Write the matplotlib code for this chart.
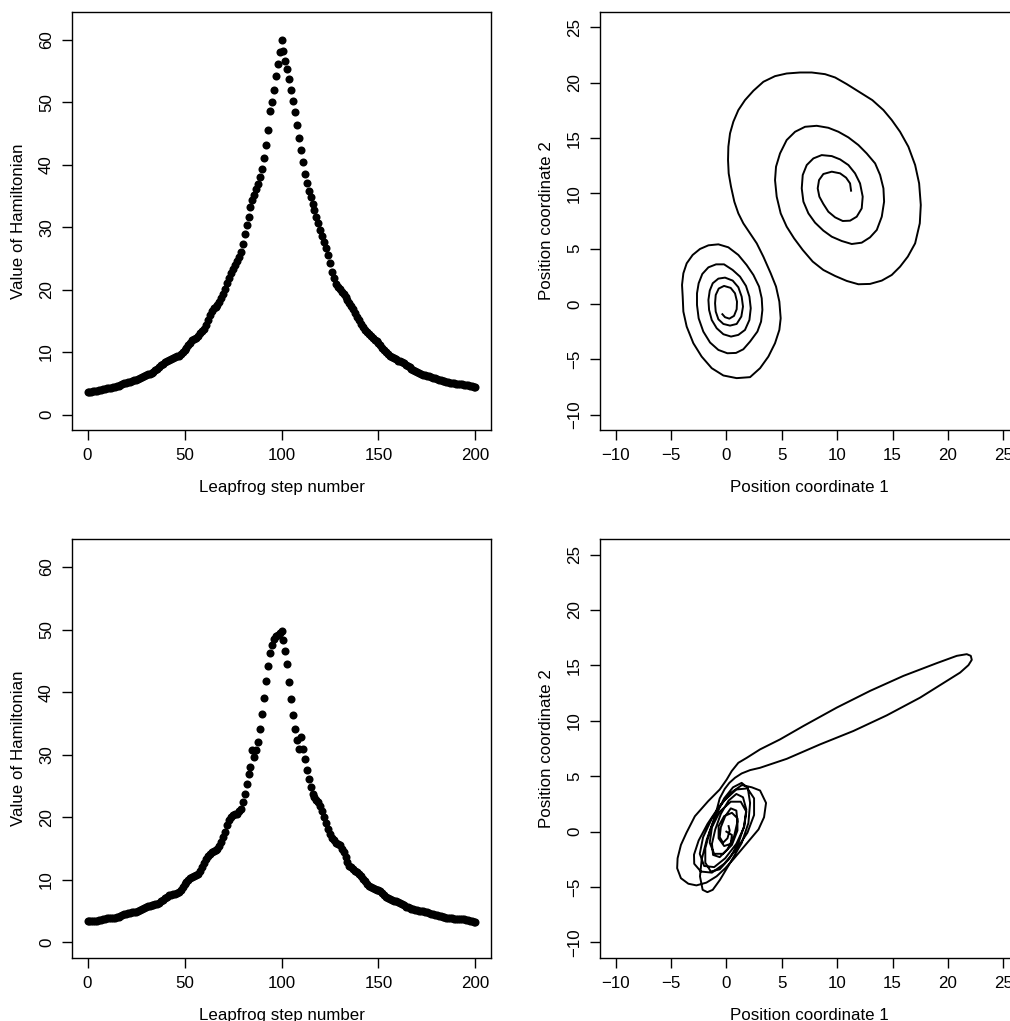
import matplotlib
matplotlib.use("Agg")
import matplotlib.pyplot as plt
import numpy as np

plt.rcParams['font.family'] = ['Liberation Sans', 'DejaVu Sans']

# leapfrog step number (0..200)
steps = np.arange(201)

# value of the Hamiltonian, top run
ham_top = [
    3.64, 3.66, 3.68, 3.71, 3.75, 3.80, 3.86, 3.93, 4.01, 4.09,
    4.17, 4.24, 4.30, 4.36, 4.42, 4.50, 4.60, 4.72, 4.85, 4.97,
    5.08, 5.18, 5.27, 5.36, 5.46, 5.58, 5.72, 5.88, 6.04, 6.18,
    6.30, 6.42, 6.54, 6.68, 6.86, 7.08, 7.34, 7.62, 7.90, 8.16,
    8.40, 8.56, 8.72, 8.88, 9.02, 9.16, 9.30, 9.45, 9.70, 10.0,
    10.3, 10.7, 11.1, 11.5, 11.9, 12.1, 12.3, 12.6, 13.0, 13.3,
    13.7, 14.3, 15.1, 15.9, 16.6, 17.0, 17.3, 17.6, 18.0, 18.6,
    19.3, 20.1, 21.0, 21.9, 22.7, 23.3, 23.9, 24.6, 25.3, 26.1,
    27.3, 28.9, 30.4, 31.7, 33.3, 34.4, 35.2, 36.1, 36.9, 38.0,
    39.3, 41.1, 43.2, 45.6, 48.7, 50.0, 52.0, 54.2, 56.2, 58.1,
    60.05, 58.3, 56.7, 55.3, 53.7, 52.0, 50.3, 48.5, 46.4, 44.3,
    42.3, 40.4, 38.6, 37.1, 35.8, 34.8, 33.7, 32.8, 31.7, 30.6,
    29.6, 28.6, 27.7, 26.6, 25.6, 24.2, 22.9, 21.8, 20.9, 20.5,
    20.1, 19.7, 19.3, 18.9, 18.4, 17.9, 17.4, 16.9, 16.3, 15.7,
    15.1, 14.5, 14.0, 13.6, 13.2, 12.9, 12.6, 12.3, 12.0, 11.7,
    11.4, 11.1, 10.7, 10.3, 9.95, 9.65, 9.40, 9.20, 9.00, 8.82,
    8.65, 8.50, 8.35, 8.18, 8.00, 7.80, 7.58, 7.36, 7.14, 6.94,
    6.78, 6.64, 6.52, 6.40, 6.30, 6.20, 6.10, 6.00, 5.90, 5.80,
    5.70, 5.60, 5.50, 5.40, 5.32, 5.25, 5.18, 5.12, 5.06, 5.00,
    4.95, 4.90, 4.86, 4.82, 4.78, 4.72, 4.65, 4.57, 4.49, 4.41,
    4.33]

# value of the Hamiltonian, bottom run
ham_bot = [
    3.41, 3.42, 3.43, 3.44, 3.46, 3.48, 3.55, 3.63, 3.70, 3.77,
    3.84, 3.88, 3.91, 3.94, 3.97, 4.00, 4.10, 4.22, 4.36, 4.50,
    4.62, 4.70, 4.76, 4.81, 4.86, 4.90, 5.02, 5.18, 5.36, 5.54,
    5.68, 5.78, 5.86, 5.94, 6.02, 6.10, 6.22, 6.38, 6.58, 6.80,
    7.05, 7.30, 7.52, 7.66, 7.74, 7.80, 7.86, 8.10, 8.45, 8.85,
    9.30, 9.70, 10.0, 10.25, 10.45, 10.62, 10.80, 11.0, 11.5, 12.1,
    12.7, 13.3, 13.9, 14.2, 14.4, 14.55, 14.7, 14.9, 15.4, 16.0,
    16.8, 17.7, 18.7, 19.5, 20.0, 20.3, 20.5, 20.6, 21.0, 21.3,
    22.4, 23.8, 25.4, 26.9, 28.1, 30.8, 29.6, 30.8, 32.1, 34.1,
    36.5, 39.1, 41.8, 44.2, 46.2, 47.6, 48.5, 49.0, 49.2, 49.4,
    49.7, 48.4, 46.6, 44.5, 41.7, 38.9, 36.4, 34.1, 32.3, 31.0,
    32.8, 30.9, 29.3, 27.6, 26.1, 24.9, 23.8, 23.2, 22.8, 22.4,
    21.8, 21.0, 20.0, 19.1, 18.2, 17.3, 16.7, 16.3, 15.9, 15.7,
    15.5, 15.0, 14.4, 13.6, 12.9, 12.3, 12.0, 11.7, 11.5, 11.3,
    11.0, 10.6, 10.2, 9.8, 9.4, 9.1, 8.85, 8.65, 8.55, 8.45,
    8.35, 8.15, 7.9, 7.6, 7.3, 7.05, 6.88, 6.75, 6.65, 6.55,
    6.45, 6.35, 6.15, 5.95, 5.75, 5.6, 5.48, 5.38, 5.3, 5.22,
    5.16, 5.10, 5.04, 4.98, 4.90, 4.80, 4.70, 4.60, 4.50, 4.42,
    4.35, 4.28, 4.20, 4.12, 4.05, 3.98, 3.93, 3.89, 3.86, 3.83,
    3.80, 3.77, 3.74, 3.71, 3.68, 3.62, 3.55, 3.47, 3.39, 3.31,
    3.22]

# trajectory in position space, top run (coordinate 1, coordinate 2)
path_top = [
    (-0.36, -0.93), (-0.12, -1.20), (0.27, -1.33), (0.69, -1.08), (0.93, -0.48),
    (0.96, 0.21), (0.78, 0.96), (0.39, 1.45), (-0.21, 1.63), (-0.69, 1.39),
    (-0.96, 0.81), (-1.02, 0.06),
    (-0.96, -0.69), (-0.72, -1.39), (-0.27, -1.81), (0.33, -1.96), (0.93, -1.81),
    (1.35, -1.14), (1.50, -0.24), (1.38, 0.66), (1.08, 1.51), (0.57, 2.11),
    (-0.12, 2.38), (-0.72, 2.29), (-1.23, 1.87), (-1.50, 1.20), (-1.62, 0.36),
    (-1.56, -0.54), (-1.32, -1.45), (-0.87, -2.20), (-0.27, -2.74), (0.42, -2.95),
    (1.08, -2.80), (1.68, -2.35), (2.08, -1.45), (2.20, -0.39), (2.08, 0.66),
    (1.77, 1.63), (1.23, 2.47), (0.57, 3.07), (-0.21, 3.58), (-0.93, 3.58),
    (-1.62, 3.31), (-2.17, 2.71), (-2.50, 1.87), (-2.65, 0.96),
    (-2.65, -0.09), (-2.50, -1.30), (-2.08, -2.50), (-1.47, -3.49), (-0.72, -4.16),
    (0.09, -4.46), (0.87, -4.43), (1.53, -4.10), (2.14, -3.40), (2.80, -2.50),
    (3.13, -1.60), (3.25, -0.54), (3.19, 0.51), (2.95, 1.57), (2.44, 2.62),
    (1.83, 3.52), (1.08, 4.43), (0.18, 5.12), (-0.72, 5.39), (-1.62, 5.30),
    (-2.38, 4.97), (-3.04, 4.43), (-3.58, 3.67), (-3.88, 2.77), (-4.00, 1.72),
    (-3.94, 0.66),
    (-3.88, -0.69), (-3.58, -2.05), (-2.98, -3.55), (-2.23, -4.76), (-1.32, -5.81),
    (-0.27, -6.47), (0.93, -6.71), (2.14, -6.62), (3.04, -5.81), (3.79, -4.76),
    (4.39, -3.55), (4.78, -2.35), (4.90, -1.30), (4.78, 0.21), (4.48, 1.57),
    (4.00, 2.77), (3.34, 4.27), (2.74, 5.48), (2.14, 6.38), (1.53, 7.29),
    (1.08, 8.19),
    (0.72, 9.24), (0.42, 10.60), (0.21, 11.80), (0.15, 13.01), (0.18, 14.22),
    (0.33, 15.42), (0.63, 16.48), (1.08, 17.53), (1.68, 18.43), (2.44, 19.28),
    (3.34, 20.09), (4.39, 20.60), (5.44, 20.84), (6.65, 20.93), (7.70, 20.93),
    (8.90, 20.78), (9.81, 20.48), (10.86, 19.88), (12.06, 19.13), (13.17, 18.43),
    (14.17, 17.53), (14.92, 16.63), (15.67, 15.57), (16.42, 14.22), (17.03, 12.56),
    (17.39, 10.90), (17.54, 8.95), (17.45, 7.29), (17.03, 5.48), (16.37, 4.28),
    (15.67, 3.37), (14.92, 2.62), (14.02, 2.11), (12.96, 1.81), (11.91, 1.78),
    (10.86, 2.08), (9.81, 2.53), (8.75, 3.07), (7.79, 3.83), (6.89, 4.88),
    (6.11, 5.93), (5.44, 6.99), (4.90, 8.19), (4.54, 9.70), (4.39, 11.20),
    (4.48, 12.41), (4.84, 13.61), (5.44, 14.82), (6.20, 15.57), (7.10, 16.02),
    (8.15, 16.11), (9.20, 15.93), (10.11, 15.57), (11.01, 15.06), (11.91, 14.37),
    (12.66, 13.61), (13.42, 12.71), (13.87, 11.66), (14.17, 10.45), (14.23, 9.25),
    (14.02, 7.89), (13.57, 6.69), (12.96, 6.02), (12.21, 5.54), (11.31, 5.42),
    (10.41, 5.69), (9.51, 6.08), (8.75, 6.63), (8.00, 7.35), (7.40, 8.19),
    (6.95, 9.25), (6.80, 10.45), (6.89, 11.66), (7.25, 12.56), (7.85, 13.16),
    (8.60, 13.46), (9.51, 13.37), (10.26, 13.07), (11.01, 12.56), (11.61, 11.81),
    (12.06, 10.90), (12.30, 9.70), (12.21, 8.64), (11.76, 7.89), (11.16, 7.53),
    (10.50, 7.50), (9.81, 7.83), (9.20, 8.34), (8.75, 9.04), (8.39, 9.70),
    (8.24, 10.45), (8.36, 11.20), (8.75, 11.75), (9.51, 11.96), (10.26, 11.81),
    (10.80, 11.42), (11.16, 10.90), (11.25, 10.24)]

# trajectory in position space, bottom run
path_bot = [
    (0.0, 0.0), (0.5, -0.3), (0.4, -1.1), (-0.2, -1.3), (-0.7, -0.6),
    (-0.7, 0.5), (-0.2, 1.4), (0.5, 1.7), (1.0, 1.2), (1.0, 0.1),
    (0.5, -1.2), (-0.3, -2.0), (-1.1, -2.0), (-1.5, -1.0), (-1.3, 0.4),
    (-0.6, 1.8), (0.4, 2.7), (1.3, 2.7), (1.8, 1.8), (1.6, 0.4),
    (0.9, -1.1), (-0.1, -2.4), (-1.1, -3.2), (-2.0, -3.1), (-2.4, -2.0),
    (-2.1, -0.5), (-1.3, 1.2), (-0.2, 2.8), (0.9, 3.8), (1.9, 3.9),
    (2.5, 3.0), (2.5, 1.5), (1.9, -0.1), (0.9, -1.6), (-0.2, -2.9),
    (-1.3, -3.7), (-2.3, -3.6), (-2.9, -2.9), (-2.92, -2.08), (-2.5, -0.8),
    (-1.7, 0.7), (-0.7, 2.2), (0.4, 3.5), (1.4, 4.2), (2.29, 4.0),
    (3.04, 3.71), (3.58, 2.59), (3.4, 1.3), (2.9, 0.2), (2.12, -0.72),
    (1.3, -1.7), (0.61, -2.52), (-0.1, -3.3), (-0.88, -4.03), (-1.8, -4.6),
    (-2.7, -4.85), (-3.43, -4.70), (-4.1, -4.2), (-4.44, -3.3), (-4.4, -2.4),
    (-4.1, -1.2), (-3.6, -0.1), (-2.84, 1.39), (-1.64, 2.75), (-0.6, 3.8),
    (0.03, 4.70), (0.48, 5.46), (1.08, 6.21), (1.84, 6.66), (3.04, 7.42),
    (4.84, 8.32), (6.95, 9.53), (9.96, 11.19), (12.97, 12.70), (15.97, 14.05),
    (18.98, 15.20), (20.79, 15.86), (21.69, 16.01), (22.05, 15.86), (22.14, 15.50),
    (21.84, 15.02), (21.09, 14.35), (19.89, 13.60), (17.48, 12.09), (14.47, 10.49),
    (11.46, 9.08), (8.45, 7.87), (5.45, 6.57), (3.04, 5.76), (2.14, 5.55),
    (1.38, 5.25), (0.78, 4.86), (0.27, 4.40), (-0.15, 3.85), (-0.6, 3.0),
    (-1.02, 1.39), (-1.77, -0.72), (-2.23, -2.53), (-2.38, -4.04), (-2.14, -5.25),
    (-1.71, -5.46), (-1.23, -5.25), (-0.57, -4.34), (0.33, -2.83), (1.38, -1.03),
    (1.99, 0.78), (2.14, 2.59), (1.93, 3.95), (1.38, 4.40), (0.6, 4.0),
    (-0.2, 3.0), (-0.9, 1.6), (-1.5, 0.0), (-1.9, -1.5), (-1.9, -2.8),
    (-1.4, -3.6), (-0.6, -3.4), (0.3, -2.4), (1.1, -1.0), (1.6, 0.5),
    (1.8, 2.0), (1.5, 3.1), (0.9, 3.4), (0.2, 2.8), (-0.5, 1.6),
    (-1.0, 0.2), (-1.3, -1.1), (-1.2, -2.1), (-0.6, -2.3), (0.1, -1.6),
    (0.7, -0.4), (1.0, 0.9), (0.9, 1.9), (0.4, 2.1), (-0.1, 1.4),
    (-0.5, 0.4), (-0.6, -0.5), (-0.3, -1.0), (0.1, -0.6), (0.3, 0.1),
    (0.2, 0.5)]

step_ticks = [0, 50, 100, 150, 200]
ham_ticks = [0, 10, 20, 30, 40, 50, 60]
pos_ticks = [-10, -5, 0, 5, 10, 15, 20, 25]

W, H = 1010, 1021
fig = plt.figure(figsize=(W / 100, H / 100), dpi=100)


def make_axes(left, top, right, bottom):
    # pixel box -> figure fraction
    return fig.add_axes([left / W, 1 - bottom / H, (right - left) / W, (bottom - top) / H])


def style(ax):
    for sp in ax.spines.values():
        sp.set_linewidth(1.0)
    ax.tick_params(direction='out', length=7, width=1.0, labelsize=12.2, pad=6,
                   top=False, right=False)
    for lab in ax.get_yticklabels():
        lab.set_rotation(90)
        lab.set_va('center')


def plot_ham(ax, values):
    ax.plot(steps, values, 'o', color='black', markersize=5.8, markeredgewidth=0)
    ax.set_xlim(-8, 208)
    ax.set_ylim(-2.48, 64.48)
    ax.set_xticks(step_ticks)
    ax.set_yticks(ham_ticks)
    style(ax)
    ax.set_xlabel('Leapfrog step number', fontsize=12.2, labelpad=12)
    ax.set_ylabel('Value of Hamiltonian', fontsize=12.2, labelpad=9)


def plot_path(ax, path):
    p = np.array(path)
    ax.plot(p[:, 0], p[:, 1], '-', color='black', linewidth=1.4)
    ax.set_xlim(-11.4, 26.4)
    ax.set_ylim(-11.4, 26.4)
    ax.set_xticks(pos_ticks)
    ax.set_yticks(pos_ticks)
    style(ax)
    ax.set_xlabel('Position coordinate 1', fontsize=12.2, labelpad=12)
    ax.set_ylabel('Position coordinate 2', fontsize=12.2, labelpad=9)


plot_ham(make_axes(72, 12, 491, 430), ham_top)
plot_path(make_axes(600, 12, 1019, 430), path_top)
plot_ham(make_axes(72, 539, 491, 958), ham_bot)
plot_path(make_axes(600, 539, 1019, 958), path_bot)

fig.savefig('out.png', dpi=100)
